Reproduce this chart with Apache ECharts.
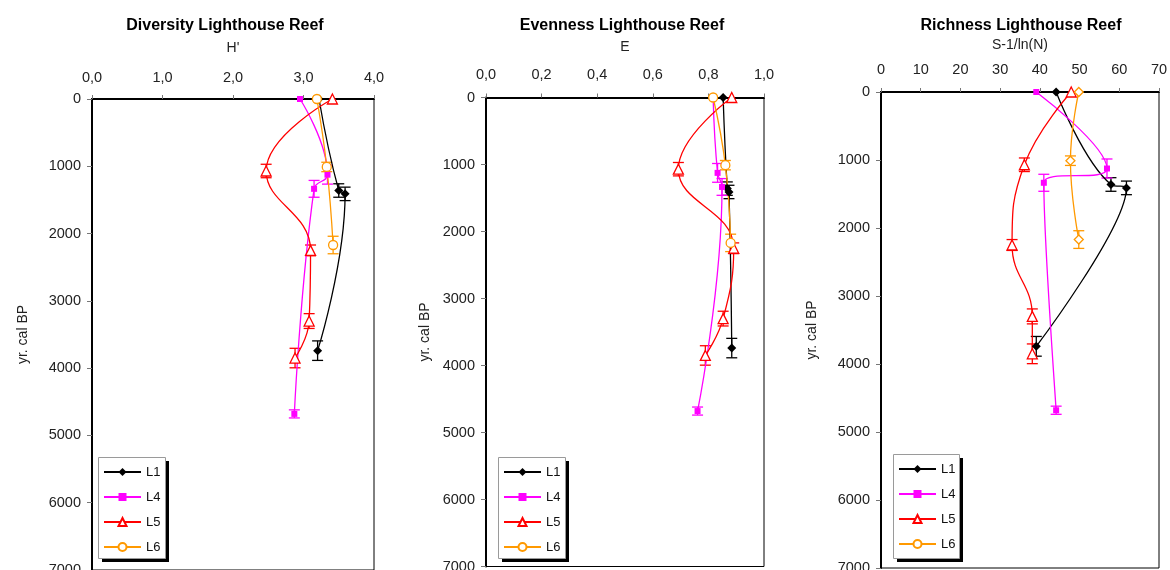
<!DOCTYPE html>
<html>
<head>
<meta charset="utf-8">
<script src="https://cdn.jsdelivr.net/npm/echarts@6/dist/echarts.min.js"></script>
<style>
  html, body { margin: 0; padding: 0; background: #fff; }
  #chart { width: 1170px; height: 570px; }
</style>
</head>
<body>
<div id="chart"></div>
<script>
// Sample ages (yr cal BP) per core
const ageL1 = [0, 1360, 1410, 3740];
const ageL4 = [0, 1125, 1335, 4680];
const ageL5 = [0, 1070, 2250, 3300, 3850];
const ageL6 = [0, 1010, 2170];

// Age uncertainty (± yr) per sample
const errL1 = [0, 100, 100, 145];
const errL4 = [0, 140, 125, 60];
const errL5 = [0, 100, 80, 110, 145];
const errL6 = [0, 70, 130];

// Diversity H'
const diversityL1 = [3.22, 3.50, 3.59, 3.20];
const diversityL4 = [2.95, 3.34, 3.15, 2.87];
const diversityL5 = [3.41, 2.47, 3.10, 3.08, 2.88];
const diversityL6 = [3.19, 3.33, 3.42];

// Evenness E
const evennessL1 = [0.853, 0.868, 0.874, 0.884];
const evennessL4 = [0.817, 0.833, 0.849, 0.761];
const evennessL5 = [0.884, 0.692, 0.891, 0.853, 0.789];
const evennessL6 = [0.817, 0.861, 0.880];

// Richness S-1/ln(N)
const richnessL1 = [44.1, 57.9, 61.8, 39.1];
const richnessL4 = [39.1, 56.9, 41.0, 44.1];
const richnessL5 = [47.9, 36.1, 33.0, 38.1, 38.1];
const richnessL6 = [49.8, 47.7, 49.8];

const cores = ['L1', 'L4', 'L5', 'L6'];
const panelTitles = ['Diversity Lighthouse Reef', 'Evenness Lighthouse Reef', 'Richness Lighthouse Reef'];
const xNames = ["H'", 'E', 'S-1/ln(N)'];
const yName = 'yr. cal BP';

const AGES = { L1: ageL1, L4: ageL4, L5: ageL5, L6: ageL6 };
const ERRS = { L1: errL1, L4: errL4, L5: errL5, L6: errL6 };
const COLORS = { L1: '#000000', L4: '#ff00ff', L5: '#ff0000', L6: '#ff9900' };
const SIZES = { L1: 9, L4: 6, L5: 10, L6: 9 };
const FONT = '"Liberation Sans", Arial, sans-serif';

const panels = [
  {
    values: { L1: diversityL1, L4: diversityL4, L5: diversityL5, L6: diversityL6 },
    xMin: 0, xMax: 4, xInterval: 1, decimals: 1,
    grid: { left: 92, top: 99, width: 282, height: 471 },
    titleX: 220, nameGap: 44, labelMargin: 14, yNameGap: 62,
    box: { x: 98, y: 457, w: 67, h: 101 }, l6Symbol: 'circle'
  },
  {
    values: { L1: evennessL1, L4: evennessL4, L5: evennessL5, L6: evennessL6 },
    xMin: 0, xMax: 1, xInterval: 0.2, decimals: 1,
    grid: { left: 486, top: 97.5, width: 278, height: 469 },
    titleX: 617, nameGap: 43, labelMargin: 15, yNameGap: 54,
    box: { x: 498, y: 457, w: 67, h: 101 }, l6Symbol: 'circle'
  },
  {
    values: { L1: richnessL1, L4: richnessL4, L5: richnessL5, L6: richnessL6 },
    xMin: 0, xMax: 70, xInterval: 10, decimals: 0,
    grid: { left: 881, top: 92, width: 278, height: 476 },
    titleX: 1016, nameGap: 40, labelMargin: 15, yNameGap: 62,
    box: { x: 893, y: 454, w: 66, h: 104 }, l6Symbol: 'diamond'
  }
];

const symbolFor = { L1: 'diamond', L4: 'rect', L5: 'triangle' };

function errorBarSeries(gi, key, vals) {
  const data = vals.map((v, i) => [v, AGES[key][i], ERRS[key][i]]).filter(d => d[2] > 0);
  return {
    type: 'custom', xAxisIndex: gi, yAxisIndex: gi, silent: true, z: 2,
    encode: { x: 0, y: 1 },
    data,
    renderItem: (params, api) => {
      const x = api.value(0), a = api.value(1), e = api.value(2);
      const p0 = api.coord([x, a - e]);
      const p1 = api.coord([x, a + e]);
      const w = 5.5;
      const style = { stroke: COLORS[key], lineWidth: 1.3 };
      return {
        type: 'group',
        children: [
          { type: 'line', shape: { x1: p0[0], y1: p0[1], x2: p1[0], y2: p1[1] }, style },
          { type: 'line', shape: { x1: p0[0] - w, y1: p0[1], x2: p0[0] + w, y2: p0[1] }, style },
          { type: 'line', shape: { x1: p1[0] - w, y1: p1[1], x2: p1[0] + w, y2: p1[1] }, style }
        ]
      };
    }
  };
}

function coreSeries(gi, key, vals, symbol) {
  const filled = key === 'L1' || key === 'L4';
  return {
    type: 'line', name: key, xAxisIndex: gi, yAxisIndex: gi,
    data: vals.map((v, i) => [v, AGES[key][i]]),
    smooth: 0.45,
    symbol, symbolSize: SIZES[key],
    showAllSymbol: true,
    lineStyle: { color: COLORS[key], width: 1.3 },
    itemStyle: {
      color: filled ? COLORS[key] : '#ffffff',
      borderColor: COLORS[key],
      borderWidth: filled ? 0 : 1.3
    },
    emphasis: { disabled: true },
    z: 3
  };
}

const series = [];
panels.forEach((p, gi) => {
  cores.forEach(key => series.push(errorBarSeries(gi, key, p.values[key])));
});
panels.forEach((p, gi) => {
  cores.forEach(key => {
    const sym = key === 'L6' ? p.l6Symbol : symbolFor[key];
    series.push(coreSeries(gi, key, p.values[key], sym));
  });
});

// Legend frames: black drop shadow behind a white, grey-bordered box
const legendFrames = [];
panels.forEach(p => {
  const b = p.box;
  legendFrames.push({
    type: 'rect', z: 5, silent: true,
    shape: { x: b.x + 4, y: b.y + 4, width: b.w, height: b.h },
    style: { fill: '#000' }
  });
  legendFrames.push({
    type: 'rect', z: 6, silent: true,
    shape: { x: b.x + 0.5, y: b.y + 0.5, width: b.w, height: b.h },
    style: { fill: '#fff', stroke: '#9a9a9a', lineWidth: 1 }
  });
});

const option = {
  animation: false,
  backgroundColor: '#ffffff',
  textStyle: { fontFamily: FONT },
  title: panels.map((p, i) => ({
    text: panelTitles[i],
    left: p.titleX, top: 13, textAlign: 'center',
    textStyle: { fontFamily: FONT, fontSize: 16, fontWeight: 'bold', color: '#000' }
  })),
  grid: panels.map(p => ({
    left: p.grid.left, top: p.grid.top, width: p.grid.width, height: p.grid.height,
    outerBoundsMode: 'none', containLabel: false,
    show: true, borderColor: '#000', borderWidth: 1, backgroundColor: 'transparent'
  })),
  xAxis: panels.map((p, i) => ({
    type: 'value', gridIndex: i, position: 'top',
    min: p.xMin, max: p.xMax, interval: p.xInterval,
    name: xNames[i], nameLocation: 'middle', nameGap: p.nameGap,
    nameTextStyle: { fontFamily: FONT, fontSize: 14, color: '#222' },
    axisLine: { show: true, lineStyle: { color: '#000', width: 2 } },
    axisTick: { show: true, length: 4, lineStyle: { color: '#777' } },
    axisLabel: {
      margin: p.labelMargin, fontFamily: FONT, fontSize: 14.5, color: '#222',
      formatter: v => v.toFixed(p.decimals).replace('.', ',')
    },
    splitLine: { show: false }
  })),
  yAxis: panels.map((p, i) => ({
    type: 'value', gridIndex: i, inverse: true,
    min: 0, max: 7000, interval: 1000,
    name: yName, nameLocation: 'middle', nameGap: p.yNameGap, nameRotate: 90,
    nameTextStyle: { fontFamily: FONT, fontSize: 14, color: '#222' },
    axisLine: { show: true, lineStyle: { color: '#000', width: 2 } },
    axisTick: { show: true, length: 5, lineStyle: { color: '#777' } },
    axisLabel: {
      margin: 11, fontFamily: FONT, fontSize: 14.5, color: '#222',
      formatter: v => String(v)
    },
    splitLine: { show: false }
  })),
  legend: panels.map(p => ({
    data: cores,
    orient: 'vertical',
    left: p.box.x + 5, top: p.box.y + 8.5,
    itemWidth: 37, itemHeight: 10, itemGap: 12,
    padding: 0,
    z: 7,
    selectedMode: false,
    textStyle: { fontFamily: FONT, fontSize: 13, color: '#111' }
  })),
  graphic: legendFrames,
  series
};

const chart = echarts.init(document.getElementById('chart'), null, { renderer: 'canvas' });
chart.setOption(option);
</script>
</body>
</html>
